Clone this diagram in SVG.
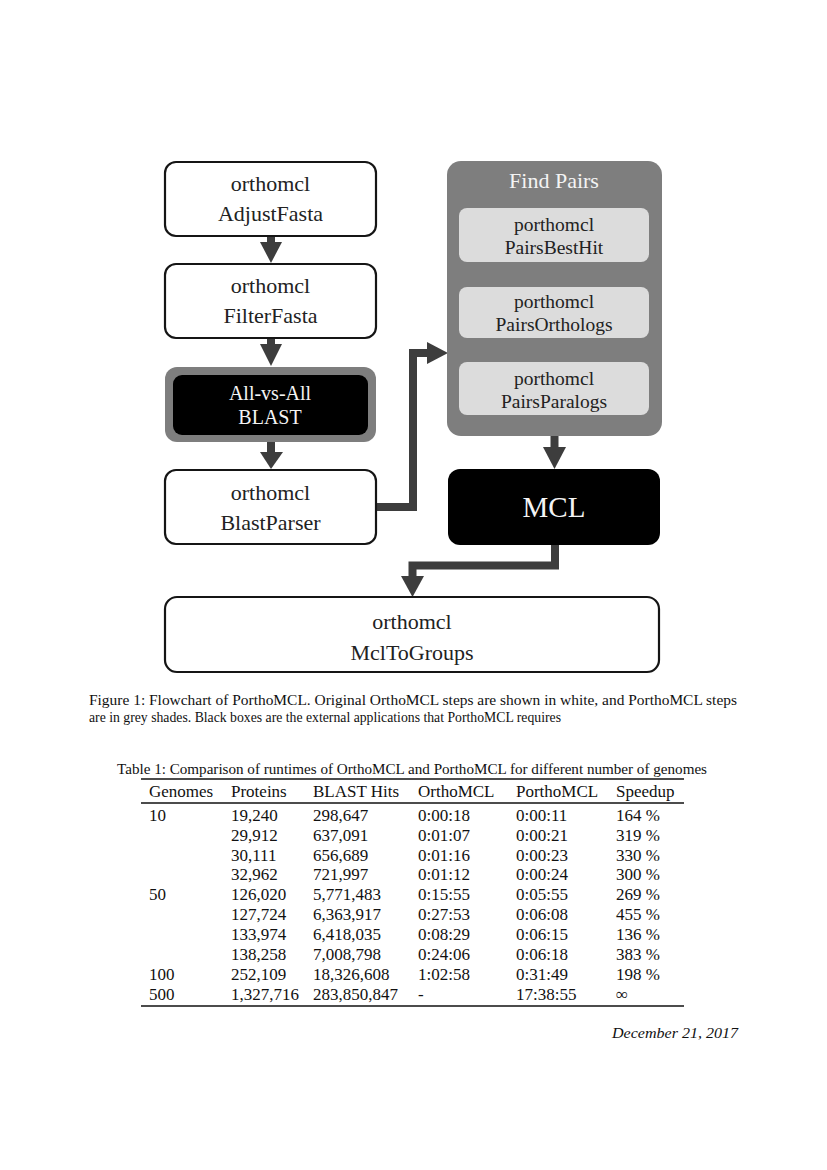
<svg xmlns="http://www.w3.org/2000/svg" width="827" height="1170" viewBox="0 0 827 1170">
<style>
.bg{fill:#ffffff}
.wbox{fill:#ffffff;stroke:#151515;stroke-width:2.2}
.lbl{font-family:"Liberation Serif","Times New Roman",serif;font-size:22px;fill:#222;text-anchor:middle}
.sub{font-family:"Liberation Serif","Times New Roman",serif;font-size:19.5px;fill:#222;text-anchor:middle}
.wt{font-family:"Liberation Serif","Times New Roman",serif;fill:#f4f4f4;text-anchor:middle}
.grey{fill:#7e7e7e}
.light{fill:#dcdcdc}
.blk{fill:#000000}
.shaft{fill:none;stroke:#3d3d3d;stroke-width:8;stroke-linejoin:miter}
.head{fill:#3d3d3d}
.cap{font-family:"Liberation Serif","Times New Roman",serif;font-size:14px;fill:#111}
.tb{font-family:"Liberation Serif","Times New Roman",serif;font-size:17px;fill:#111}
.rule{stroke:#111;stroke-width:1.3}
</style>
<rect class="bg" x="0" y="0" width="827" height="1170"/>

<g id="connectors">
  <path class="shaft" d="M271 236 V244"/>
  <polygon class="head" points="260,242 282,242 271,263"/>
  <path class="shaft" d="M271 338 V346"/>
  <polygon class="head" points="260,344 282,344 271,366"/>
  <path class="shaft" d="M271 442 V454"/>
  <polygon class="head" points="260,452 283,452 271,469"/>
  <path class="shaft" d="M376 507 H413 V353 H429"/>
  <polygon class="head" points="427,342 448,353 427,364"/>
  <path class="shaft" d="M554.5 436 V449"/>
  <polygon class="head" points="543,447 566,447 554.5,469"/>
  <path class="shaft" d="M555 545 V565.5 H412.5 V578"/>
  <polygon class="head" points="401,576 424,576 412.5,597"/>
</g>

<g id="adjustfasta">
  <rect class="wbox" x="165" y="162" width="211" height="74" rx="11"/>
  <text class="lbl" x="270.5" y="191">orthomcl</text>
  <text class="lbl" x="270.5" y="221">AdjustFasta</text>
</g>
<g id="filterfasta">
  <rect class="wbox" x="165" y="264" width="211" height="74" rx="11"/>
  <text class="lbl" x="270.5" y="293">orthomcl</text>
  <text class="lbl" x="270.5" y="323">FilterFasta</text>
</g>
<g id="blast">
  <rect class="grey" x="165" y="367" width="211" height="75" rx="12"/>
  <rect class="blk" x="173" y="375" width="195" height="60" rx="9"/>
  <text class="wt" x="270" y="400" font-size="20">All-vs-All</text>
  <text class="wt" x="270" y="424" font-size="20">BLAST</text>
</g>
<g id="blastparser">
  <rect class="wbox" x="165" y="470" width="211" height="74" rx="11"/>
  <text class="lbl" x="270.5" y="500">orthomcl</text>
  <text class="lbl" x="270.5" y="530">BlastParser</text>
</g>
<g id="findpairs">
  <rect class="grey" x="447" y="161" width="215" height="275" rx="14"/>
  <text class="wt" x="554" y="188" font-size="22">Find Pairs</text>
  <g id="pairsbesthit">
    <rect class="light" x="459" y="208" width="190" height="54" rx="8"/>
    <text class="sub" x="554" y="231">porthomcl</text>
    <text class="sub" x="554" y="254">PairsBestHit</text>
  </g>
  <g id="pairsorthologs">
    <rect class="light" x="459" y="287" width="190" height="51" rx="8"/>
    <text class="sub" x="554" y="308">porthomcl</text>
    <text class="sub" x="554" y="331">PairsOrthologs</text>
  </g>
  <g id="pairsparalogs">
    <rect class="light" x="459" y="362" width="190" height="53" rx="8"/>
    <text class="sub" x="554" y="385">porthomcl</text>
    <text class="sub" x="554" y="408">PairsParalogs</text>
  </g>
</g>
<g id="mcl">
  <rect class="blk" x="448" y="469" width="212" height="76" rx="12"/>
  <text class="wt" x="554" y="517" font-size="29">MCL</text>
</g>
<g id="mcltogroups">
  <rect class="wbox" x="165" y="597" width="494" height="75" rx="12"/>
  <text class="lbl" x="412" y="629" font-size="24">orthomcl</text>
  <text class="lbl" x="412" y="660" font-size="24">MclToGroups</text>
</g>

<g id="caption">
  <text class="cap" x="89" y="705" textLength="648" lengthAdjust="spacingAndGlyphs">Figure 1: Flowchart of PorthoMCL. Original OrthoMCL steps are shown in white, and PorthoMCL steps</text>
  <text class="cap" x="89" y="722" textLength="472" lengthAdjust="spacingAndGlyphs">are in grey shades. Black boxes are the external applications that PorthoMCL requires</text>
</g>

<g id="table">
  <text class="cap" x="117" y="774" textLength="590" lengthAdjust="spacingAndGlyphs">Table 1: Comparison of runtimes of OrthoMCL and PorthoMCL for different number of genomes</text>
  <line class="rule" x1="141" y1="779" x2="684" y2="779"/>
  <g class="tb">
    <text x="149" y="797">Genomes</text><text x="231" y="797">Proteins</text><text x="313" y="797">BLAST Hits</text><text x="418" y="797">OrthoMCL</text><text x="516" y="797">PorthoMCL</text><text x="616" y="797">Speedup</text>
  </g>
  <line class="rule" x1="141" y1="803" x2="684" y2="803"/>
  <g class="tb">
    <text x="149" y="821">10</text><text x="231" y="821">19,240</text><text x="313" y="821">298,647</text><text x="418" y="821">0:00:18</text><text x="516" y="821">0:00:11</text><text x="616" y="821">164 %</text>
    <text x="231" y="841">29,912</text><text x="313" y="841">637,091</text><text x="418" y="841">0:01:07</text><text x="516" y="841">0:00:21</text><text x="616" y="841">319 %</text>
    <text x="231" y="861">30,111</text><text x="313" y="861">656,689</text><text x="418" y="861">0:01:16</text><text x="516" y="861">0:00:23</text><text x="616" y="861">330 %</text>
    <text x="231" y="880">32,962</text><text x="313" y="880">721,997</text><text x="418" y="880">0:01:12</text><text x="516" y="880">0:00:24</text><text x="616" y="880">300 %</text>
    <text x="149" y="900">50</text><text x="231" y="900">126,020</text><text x="313" y="900">5,771,483</text><text x="418" y="900">0:15:55</text><text x="516" y="900">0:05:55</text><text x="616" y="900">269 %</text>
    <text x="231" y="920">127,724</text><text x="313" y="920">6,363,917</text><text x="418" y="920">0:27:53</text><text x="516" y="920">0:06:08</text><text x="616" y="920">455 %</text>
    <text x="231" y="940">133,974</text><text x="313" y="940">6,418,035</text><text x="418" y="940">0:08:29</text><text x="516" y="940">0:06:15</text><text x="616" y="940">136 %</text>
    <text x="231" y="960">138,258</text><text x="313" y="960">7,008,798</text><text x="418" y="960">0:24:06</text><text x="516" y="960">0:06:18</text><text x="616" y="960">383 %</text>
    <text x="149" y="980">100</text><text x="231" y="980">252,109</text><text x="313" y="980">18,326,608</text><text x="418" y="980">1:02:58</text><text x="516" y="980">0:31:49</text><text x="616" y="980">198 %</text>
    <text x="149" y="1000">500</text><text x="231" y="1000">1,327,716</text><text x="313" y="1000">283,850,847</text><text x="418" y="1000">-</text><text x="516" y="1000">17:38:55</text><text x="616" y="1000">∞</text>
  </g>
  <line class="rule" x1="141" y1="1006" x2="684" y2="1006"/>
</g>

<text class="cap" x="738" y="1038" text-anchor="end" font-style="italic" textLength="126" lengthAdjust="spacingAndGlyphs">December 21, 2017</text>
</svg>
